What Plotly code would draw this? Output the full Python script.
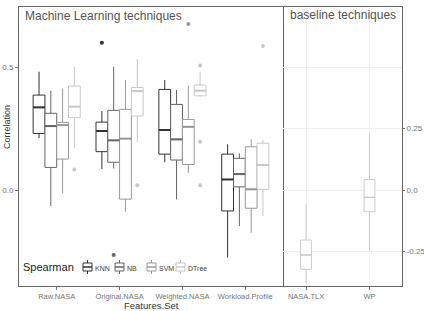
import plotly.graph_objects as go

# ---------------- data ----------------
groups = ["Raw.NASA", "Original.NASA", "Weighted.NASA", "Workload.Profile"]
methods = ["KNN", "NB", "SVM", "DTree"]
colors = ["#333333", "#666666", "#999999", "#c8c8c8"]

knn_lo = [0.211, 0.085, 0.113, -0.275]
knn_q1 = [0.230, 0.156, 0.146, -0.085]
knn_med = [0.336, 0.240, 0.244, 0.043]
knn_q3 = [0.386, 0.276, 0.409, 0.146]
knn_hi = [0.481, 0.321, 0.447, 0.186]

nb_lo = [-0.065, 0.088, -0.038, -0.146]
nb_q1 = [0.092, 0.113, 0.122, 0.013]
nb_med = [0.260, 0.202, 0.206, 0.065]
nb_q3 = [0.312, 0.324, 0.348, 0.129]
nb_hi = [0.404, 0.501, 0.407, 0.149]

svm_lo = [-0.013, -0.088, 0.070, -0.174]
svm_q1 = [0.126, -0.037, 0.104, -0.074]
svm_med = [0.264, 0.209, 0.257, 0.003]
svm_q3 = [0.275, 0.328, 0.287, 0.176]
svm_hi = [0.413, 0.447, 0.423, 0.207]

dtree_lo = [0.172, 0.196, 0.380, -0.104]
dtree_q1 = [0.294, 0.301, 0.383, 0.003]
dtree_med = [0.339, 0.402, 0.404, 0.102]
dtree_q3 = [0.423, 0.417, 0.427, 0.190]
dtree_hi = [0.501, 0.531, 0.481, 0.203]

outlier_group = ["Raw.NASA", "Original.NASA", "Original.NASA", "Original.NASA",
                 "Weighted.NASA", "Weighted.NASA", "Weighted.NASA", "Weighted.NASA",
                 "Workload.Profile"]
outlier_method = ["DTree", "KNN", "NB", "DTree",
                  "SVM", "DTree", "DTree", "DTree",
                  "DTree"]
outlier_value = [0.084, 0.599, -0.264, 0.020,
                 0.675, 0.506, 0.196, 0.020,
                 0.585]

baseline_cats = ["NASA.TLX", "WP"]
base_lo = [-0.378, -0.244]
base_q1 = [-0.322, -0.088]
base_med = [-0.264, -0.030]
base_q3 = [-0.203, 0.043]
base_hi = [-0.058, 0.228]

left_ticks = [0.5, 0.0]
left_ticktext = ["0.5", "0.0"]
right_ticks = [0.25, 0.0, -0.25]
right_ticktext = ["0.25", "0.0", "-0.25"]

stats = {
    "KNN": (knn_lo, knn_q1, knn_med, knn_q3, knn_hi),
    "NB": (nb_lo, nb_q1, nb_med, nb_q3, nb_hi),
    "SVM": (svm_lo, svm_q1, svm_med, svm_q3, svm_hi),
    "DTree": (dtree_lo, dtree_q1, dtree_med, dtree_q3, dtree_hi),
}

# ---------------- layout constants ----------------
W, H = 424, 311
ML, MR, MT, MB = 19, 22, 7, 25
split = (283 - ML) / (W - ML - MR)
dodge = 0.75
bw = dodge / len(methods)
bw_base = 0.17
yr = [-0.390, 0.744]
FONT = "Liberation Sans, Arial, sans-serif"

fig = go.Figure()

for k, m in enumerate(methods):
    lo, q1, med, q3, hi = stats[m]
    off = (k - (len(methods) - 1) / 2) * bw
    xs = [i + 1 + off for i in range(len(groups))]
    fig.add_trace(go.Box(
        x=xs, q1=q1, median=med, q3=q3, lowerfence=lo, upperfence=hi,
        width=bw, whiskerwidth=0, boxpoints=False,
        fillcolor="white", line=dict(color=colors[k], width=1),
        xaxis="x", yaxis="y", showlegend=False, hoverinfo="skip"))
    mx, my = [], []
    for x, v in zip(xs, med):
        mx += [x - bw / 2, x + bw / 2, None]
        my += [v, v, None]
    fig.add_trace(go.Scatter(x=mx, y=my, mode="lines",
                             line=dict(color=colors[k], width=2),
                             xaxis="x", yaxis="y", showlegend=False, hoverinfo="skip"))
    ox = [groups.index(g) + 1 + off for g, mm in zip(outlier_group, outlier_method) if mm == m]
    oy = [v for v, mm in zip(outlier_value, outlier_method) if mm == m]
    if ox:
        fig.add_trace(go.Scatter(x=ox, y=oy, mode="markers",
                                 marker=dict(color=colors[k], size=4),
                                 xaxis="x", yaxis="y", showlegend=False, hoverinfo="skip"))

# baseline panel
bx = [i + 1 for i in range(len(baseline_cats))]
fig.add_trace(go.Box(
    x=bx, q1=base_q1, median=base_med, q3=base_q3, lowerfence=base_lo, upperfence=base_hi,
    width=bw_base, whiskerwidth=0, boxpoints=False,
    fillcolor="white", line=dict(color="#cccccc", width=1),
    xaxis="x2", yaxis="y2", showlegend=False, hoverinfo="skip"))
mx, my = [], []
for x, v in zip(bx, base_med):
    mx += [x - bw_base / 2, x + bw_base / 2, None]
    my += [v, v, None]
fig.add_trace(go.Scatter(x=mx, y=my, mode="lines", line=dict(color="#cccccc", width=1.5),
                         xaxis="x2", yaxis="y2", showlegend=False, hoverinfo="skip"))

tickfont = dict(family=FONT, size=7.5, color="#777777")
ytickfont = dict(family=FONT, size=8, color="#777777")
axline = dict(showline=True, linecolor="#666666", linewidth=1, zeroline=False,
              automargin=False)

fig.update_layout(
    width=W, height=H, margin=dict(l=ML, r=MR, t=MT, b=MB),
    paper_bgcolor="white", plot_bgcolor="white",
    font=dict(family=FONT),
    xaxis=dict(domain=[0, split], range=[0.4, 4.6], tickvals=[1, 2, 3, 4], ticktext=groups,
               ticks="outside", ticklen=3, tickcolor="#777777", tickfont=tickfont,
               tickangle=0, showgrid=False, mirror=True, **axline),
    yaxis=dict(range=yr, tickvals=left_ticks, ticktext=left_ticktext, ticks="outside",
               ticklen=3, tickcolor="#777777", tickfont=ytickfont, showgrid=False,
               anchor="x", mirror=True, **axline),
    xaxis2=dict(domain=[split, 1], range=[1 - 23 / 63.5, 2 + 32.5 / 63.5], tickvals=bx,
                ticktext=baseline_cats, ticks="outside", ticklen=3, tickcolor="#777777",
                tickfont=tickfont, tickangle=0, showgrid=True, gridcolor="#efefef",
                gridwidth=1, anchor="y2", mirror=True, **axline),
    yaxis2=dict(range=yr, tickvals=right_ticks, ticktext=right_ticktext, side="right",
                ticks="outside", ticklen=2, tickcolor="#777777", tickfont=ytickfont,
                showgrid=True, gridcolor="#efefef", gridwidth=1, anchor="x2",
                minor=dict(tickvals=[0.5], showgrid=True, gridcolor="#efefef", ticks=""),
                mirror=False, **axline),
)

def px(x):
    return (x - ML) / (W - ML - MR)

def py(y):
    return 1 - (y - MT) / (H - MT - MB)

ann = []
ann.append(dict(text="Machine Learning techniques", xref="paper", yref="paper",
                x=px(23), y=py(16), xanchor="left", yanchor="middle", showarrow=False,
                font=dict(family=FONT, size=12, color="#555555")))
ann.append(dict(text="baseline techniques", xref="paper", yref="paper",
                x=(split + 1) / 2, y=py(15), xanchor="center", yanchor="middle",
                showarrow=False, font=dict(family=FONT, size=12, color="#555555")))
ann.append(dict(text="Correlation", xref="paper", yref="paper", x=px(7), y=py(127),
                textangle=-90, xanchor="center", yanchor="middle", showarrow=False,
                font=dict(family=FONT, size=9, color="#333333")))
ann.append(dict(text="Features.Set", xref="paper", yref="paper", x=split / 2, y=py(305),
                xanchor="center", yanchor="middle", showarrow=False,
                font=dict(family=FONT, size=9.5, color="#333333")))

# manual compact legend
leg_y = 267
ann.append(dict(text="Spearman", xref="paper", yref="paper", x=px(21), y=py(leg_y),
                xanchor="left", yanchor="middle", showarrow=False,
                font=dict(family=FONT, size=11, color="#1a1a1a")))
shapes = []
icon_x0 = 83
pitch = [32, 32, 29, 0]
cx = icon_x0
for k, m in enumerate(methods):
    c = colors[k]
    shapes.append(dict(type="line", xref="paper", yref="paper", x0=px(cx + 4.5), x1=px(cx + 4.5),
                       y0=py(leg_y - 7), y1=py(leg_y + 7), line=dict(color=c, width=1)))
    shapes.append(dict(type="rect", xref="paper", yref="paper", x0=px(cx), x1=px(cx + 9),
                       y0=py(leg_y - 4), y1=py(leg_y + 4), fillcolor="white",
                       line=dict(color=c, width=1)))
    shapes.append(dict(type="line", xref="paper", yref="paper", x0=px(cx), x1=px(cx + 9),
                       y0=py(leg_y), y1=py(leg_y), line=dict(color=c, width=1.5)))
    ann.append(dict(text=m, xref="paper", yref="paper", x=px(cx + 10), y=py(leg_y + 1),
                    xanchor="left", yanchor="middle", showarrow=False,
                    font=dict(family=FONT, size=7, color="#444444")))
    cx += pitch[k]

fig.update_layout(annotations=ann, shapes=shapes)
fig.write_html("out.html")
